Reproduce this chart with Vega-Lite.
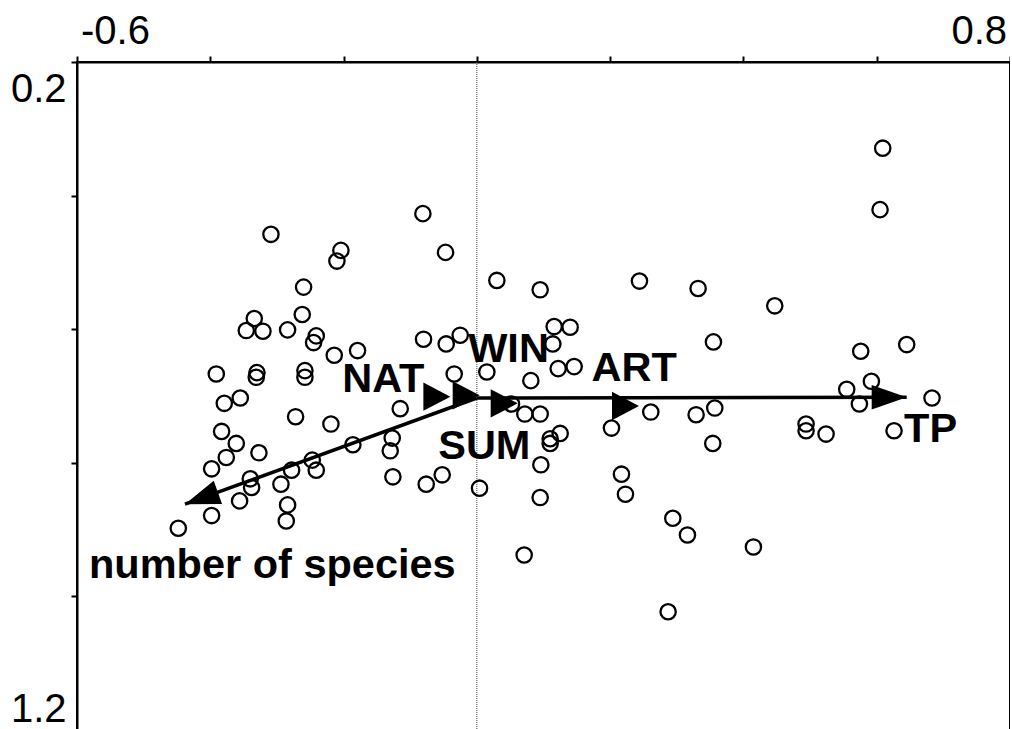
{
  "$schema": "https://vega.github.io/schema/vega-lite/v6.json",
  "width": 933,
  "height": 668,
  "autosize": {"type": "none"},
  "padding": {"left": 77, "top": 62, "right": 0, "bottom": 0},
  "background": "white",
  "config": {"view": {"stroke": "black", "strokeWidth": 2}, "font": "Liberation Sans"},
  "datasets": {
    "sites": [
      {"x":-0.081,"y":0.427},{"x":-0.309,"y":0.458},{"x":-0.204,"y":0.482},{"x":-0.210,"y":0.498},
      {"x":-0.047,"y":0.485},{"x":0.030,"y":0.527},{"x":-0.260,"y":0.537},{"x":-0.262,"y":0.578},
      {"x":-0.334,"y":0.584},{"x":-0.346,"y":0.602},{"x":-0.321,"y":0.603},{"x":-0.284,"y":0.601},
      {"x":-0.241,"y":0.610},{"x":-0.245,"y":0.620},{"x":-0.214,"y":0.639},{"x":-0.179,"y":0.632},
      {"x":-0.080,"y":0.615},{"x":-0.046,"y":0.622},{"x":-0.025,"y":0.609},{"x":-0.391,"y":0.667},
      {"x":-0.330,"y":0.665},{"x":-0.331,"y":0.672},{"x":-0.258,"y":0.662},{"x":-0.258,"y":0.672},
      {"x":-0.034,"y":0.667},{"x":0.015,"y":0.664},{"x":-0.355,"y":0.703},{"x":-0.379,"y":0.711},
      {"x":-0.272,"y":0.731},{"x":-0.219,"y":0.742},{"x":-0.115,"y":0.719},{"x":-0.383,"y":0.753},
      {"x":-0.361,"y":0.771},{"x":-0.376,"y":0.792},{"x":-0.327,"y":0.785},{"x":-0.398,"y":0.809},
      {"x":-0.340,"y":0.824},{"x":-0.338,"y":0.837},{"x":-0.294,"y":0.832},{"x":-0.278,"y":0.811},
      {"x":-0.247,"y":0.796},{"x":-0.241,"y":0.811},{"x":-0.186,"y":0.773},{"x":-0.127,"y":0.763},
      {"x":-0.130,"y":0.782},{"x":-0.126,"y":0.821},{"x":-0.076,"y":0.832},{"x":-0.052,"y":0.818},
      {"x":0.004,"y":0.838},{"x":-0.356,"y":0.857},{"x":-0.398,"y":0.879},{"x":-0.448,"y":0.898},
      {"x":-0.284,"y":0.863},{"x":-0.286,"y":0.887},{"x":0.095,"y":0.541},{"x":0.244,"y":0.528},
      {"x":0.332,"y":0.539},{"x":0.116,"y":0.596},{"x":0.140,"y":0.597},{"x":0.114,"y":0.622},
      {"x":0.355,"y":0.619},{"x":0.122,"y":0.659},{"x":0.146,"y":0.656},{"x":0.081,"y":0.677},
      {"x":0.052,"y":0.712},{"x":0.072,"y":0.727},{"x":0.095,"y":0.727},{"x":0.125,"y":0.756},
      {"x":0.110,"y":0.764},{"x":0.110,"y":0.771},{"x":0.202,"y":0.748},{"x":0.261,"y":0.724},
      {"x":0.329,"y":0.728},{"x":0.357,"y":0.718},{"x":0.354,"y":0.771},{"x":0.096,"y":0.803},
      {"x":0.095,"y":0.852},{"x":0.217,"y":0.817},{"x":0.223,"y":0.847},{"x":0.294,"y":0.883},
      {"x":0.316,"y":0.908},{"x":0.071,"y":0.938},{"x":0.287,"y":1.023},{"x":0.609,"y":0.329},
      {"x":0.605,"y":0.421},{"x":0.447,"y":0.565},{"x":0.576,"y":0.633},{"x":0.645,"y":0.623},
      {"x":0.592,"y":0.678},{"x":0.555,"y":0.690},{"x":0.574,"y":0.712},{"x":0.683,"y":0.703},
      {"x":0.494,"y":0.742},{"x":0.494,"y":0.752},{"x":0.524,"y":0.757},{"x":0.626,"y":0.752},
      {"x":0.415,"y":0.926}
    ],
    "zeroline": [{"x": 0}],
    "vectors": [
      {"name":"TP","x0":0,"y0":0.703,"x":0.645,"y":0.702},
      {"name":"number of species","x0":0,"y0":0.703,"x":-0.438,"y":0.862}
    ],
    "centroids": [
      {"name":"NAT","x":-0.060,"y":0.701},
      {"name":"WIN","x":-0.016,"y":0.699},
      {"name":"SUM","x":0.041,"y":0.711},
      {"name":"ART","x":0.223,"y":0.715}
    ],
    "labels": [
      {"label":"NAT","x":-0.202,"y":0.694},
      {"label":"WIN","x":-0.013,"y":0.649},
      {"label":"SUM","x":-0.058,"y":0.794},
      {"label":"ART","x":0.172,"y":0.677},
      {"label":"TP","x":0.641,"y":0.769},
      {"label":"number of species","x":-0.582,"y":0.972}
    ]
  },
  "layer": [
    {
      "data": {"name": "zeroline"},
      "mark": {"type": "rule", "color": "#444444", "strokeWidth": 1, "strokeDash": [1, 1]},
      "encoding": {
        "x": {"field": "x", "type": "quantitative", "scale": {"domain": [-0.6, 0.8], "nice": false, "zero": false},
          "axis": {"orient": "top", "title": null, "values": [-0.6,-0.4,-0.2,0,0.2,0.4,0.6,0.8], "grid": false, "domainColor": "black", "domainWidth": 2, "tickColor": "black", "tickWidth": 2, "tickSize": 6, "labelFont": "Liberation Sans", "labelFontSize": 40, "labelColor": "black", "labelPadding": 5, "labelFlush": true, "labelFlushOffset": 0, "labelOverlap": false, "labelBound": false, "labelOffset": {"condition": {"test": "datum.value < -0.5", "value": 3.5}, "value": -3.5}, "labelExpr": "datum.value < -0.5 ? '-0.6' : (datum.value > 0.7 ? '0.8' : '')"}}
      }
    },
    {
      "data": {"name": "sites"},
      "mark": {"type": "point", "shape": "circle", "filled": false, "stroke": "black", "strokeWidth": 2.3, "size": 235, "opacity": 1},
      "encoding": {
        "x": {"field": "x", "type": "quantitative", "scale": {"domain": [-0.6, 0.8], "nice": false, "zero": false},
          "axis": {"orient": "top", "title": null, "values": [-0.6,-0.4,-0.2,0,0.2,0.4,0.6,0.8], "grid": false, "domainColor": "black", "domainWidth": 2, "tickColor": "black", "tickWidth": 2, "tickSize": 6, "labelFont": "Liberation Sans", "labelFontSize": 40, "labelColor": "black", "labelPadding": 5, "labelFlush": true, "labelFlushOffset": 0, "labelOverlap": false, "labelBound": false, "labelOffset": {"condition": {"test": "datum.value < -0.5", "value": 3.5}, "value": -3.5}, "labelExpr": "datum.value < -0.5 ? '-0.6' : (datum.value > 0.7 ? '0.8' : '')"}},
        "y": {"field": "y", "type": "quantitative", "scale": {"domain": [0.2, 1.2], "nice": false, "zero": false, "reverse": true},
          "axis": {"orient": "left", "title": null, "values": [0.2,0.4,0.6,0.8,1.0,1.2], "grid": false, "domainColor": "black", "domainWidth": 2, "tickColor": "black", "tickWidth": 2, "tickSize": 6, "labelFont": "Liberation Sans", "labelFontSize": 40, "labelColor": "black", "labelPadding": 5, "labelFlush": true, "labelFlushOffset": 0, "labelOverlap": false, "labelBound": false, "labelOffset": {"condition": {"test": "datum.value < 0.3", "value": 7}, "value": -1}, "labelExpr": "datum.value < 0.3 ? '0.2' : (datum.value > 1.1 ? '1.2' : '')"}}
      }
    },
    {
      "data": {"name": "vectors"},
      "mark": {"type": "rule", "color": "black", "strokeWidth": 3.5},
      "encoding": {
        "x": {"field": "x0", "type": "quantitative", "title": null},
        "y": {"field": "y0", "type": "quantitative", "title": null},
        "x2": {"field": "x"},
        "y2": {"field": "y"}
      }
    },
    {
      "data": {"name": "vectors"},
      "transform": [{"filter": "datum.name == 'TP'"}],
      "mark": {"type": "point", "shape": "M0,0L-2,-0.7L-2,0.7Z", "size": 1225, "filled": true, "color": "black", "opacity": 1, "angle": 0},
      "encoding": {
        "x": {"field": "x", "type": "quantitative", "title": null},
        "y": {"field": "y", "type": "quantitative", "title": null}
      }
    },
    {
      "data": {"name": "vectors"},
      "transform": [{"filter": "datum.name == 'number of species'"}],
      "mark": {"type": "point", "shape": "M0,0L-2,-0.7L-2,0.7Z", "size": 1225, "filled": true, "color": "black", "opacity": 1, "angle": 160.2},
      "encoding": {
        "x": {"field": "x", "type": "quantitative", "title": null},
        "y": {"field": "y", "type": "quantitative", "title": null}
      }
    },
    {
      "data": {"name": "centroids"},
      "mark": {"type": "point", "shape": "M-1,-1.05L1,0L-1,1.05Z", "size": 729, "filled": true, "color": "black", "opacity": 1},
      "encoding": {
        "x": {"field": "x", "type": "quantitative", "title": null},
        "y": {"field": "y", "type": "quantitative", "title": null}
      }
    },
    {
      "data": {"name": "labels"},
      "mark": {"type": "text", "align": "left", "baseline": "alphabetic", "font": "Liberation Sans", "fontWeight": "bold", "fontSize": 41.5, "color": "black"},
      "encoding": {
        "x": {"field": "x", "type": "quantitative", "title": null},
        "y": {"field": "y", "type": "quantitative", "title": null},
        "text": {"field": "label"}
      }
    }
  ]
}
